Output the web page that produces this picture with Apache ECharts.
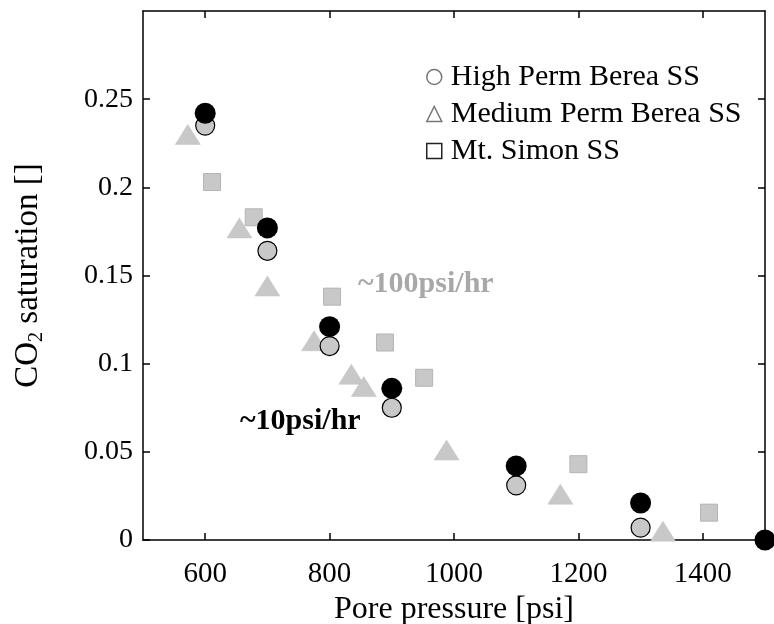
<!DOCTYPE html>
<html>
<head>
<meta charset="utf-8">
<script src="https://cdn.jsdelivr.net/npm/echarts@6/dist/echarts.min.js"></script>
<style>html,body{margin:0;padding:0;background:#fff;}#c{width:774px;height:624px;}</style>
</head>
<body>
<div id="c"></div>
<script>
// ---- data ----
var hiPermSlow = [[600,0.242],[700,0.177],[800,0.121],[900,0.086],[1100,0.042],[1300,0.021],[1500,0.0]];
var hiPermFast = [[600,0.235],[700,0.164],[800,0.110],[900,0.075],[1100,0.031],[1300,0.007]];
var medPerm = [[572,0.230],[655,0.177],[700,0.144],[775,0.113],[835,0.094],[855,0.087],[988,0.051],[1171,0.026],[1336,0.005]];
var mtSimon = [[611,0.203],[678,0.183],[804,0.138],[889,0.112],[952,0.092],[1200,0.043],[1410,0.0155]];
var xTicks = [600,800,1000,1200,1400];
var yTicks = [0,0.05,0.1,0.15,0.2,0.25];
var legendNames = ['High Perm Berea SS','Medium Perm Berea SS','Mt. Simon SS'];

var FONT = 'Liberation Serif';
var chart = echarts.init(document.getElementById('c'));
var gray = '#c8c8c8';
function xAx(pos, showLabel){
  return {
    type:'value', min:500, max:1500, position:pos,
    axisLine:{show:true, onZero:false, lineStyle:{color:'#000', width:1.5}},
    axisTick:{show:true, inside:true, length:7, customValues:xTicks, lineStyle:{color:'#000', width:1.5}},
    axisLabel:{show:showLabel, customValues:xTicks, color:'#000', fontFamily:FONT, fontSize:29, margin:20,
      formatter:function(v){return String(v);}},
    splitLine:{show:false},
    name: showLabel ? 'Pore pressure [psi]' : '',
    nameLocation:'middle', nameGap:43,
    nameTextStyle:{color:'#000', fontFamily:FONT, fontSize:32}
  };
}
function yAx(pos, showLabel){
  return {
    type:'value', min:0, max:0.3, position:pos,
    axisLine:{show:true, onZero:false, lineStyle:{color:'#000', width:1.5}},
    axisTick:{show:true, inside:true, length:7, customValues:yTicks, lineStyle:{color:'#000', width:1.5}},
    axisLabel:{show:showLabel, customValues:yTicks, color:'#000', fontFamily:FONT, fontSize:28, margin:10,
      formatter:function(v){return String(+v.toFixed(2));}},
    splitLine:{show:false},
    name: showLabel ? '{a|CO}{b|2}{a| saturation []}' : '',
    nameLocation:'middle', nameGap:96,
    nameTextStyle:{color:'#000', fontFamily:FONT, fontSize:33,
      rich:{a:{fontFamily:FONT, fontSize:33, color:'#000', lineHeight:38},
            b:{fontFamily:FONT, fontSize:20, color:'#000', lineHeight:22, verticalAlign:'bottom'}}}
  };
}
var option = {
  animation:false,
  backgroundColor:'#fff',
  grid:{left:143, top:11, right:9, bottom:84, containLabel:false, outerBoundsMode:'none'},
  xAxis:[xAx('bottom', true), xAx('top', false)],
  yAxis:[yAx('left', true), yAx('right', false)],
  legend:{
    orient:'vertical', left:421, top:57, itemGap:7, itemWidth:15, itemHeight:15,
    textStyle:{fontFamily:FONT, fontSize:30, color:'#000', padding:[0,0,0,4]},
    data:[
      {name:legendNames[0], icon:'circle', itemStyle:{color:'#fff', borderColor:'#777', borderWidth:1.5}},
      {name:legendNames[1], icon:'triangle', itemStyle:{color:'#fff', borderColor:'#777', borderWidth:1.5}},
      {name:legendNames[2], icon:'rect', itemStyle:{color:'#fff', borderColor:'#222', borderWidth:1.5}}
    ],
    selectedMode:false
  },
  series:[
    {name:legendNames[2], type:'scatter', data:mtSimon, symbol:'rect', symbolSize:17, clip:false,
     itemStyle:{color:gray, borderColor:'#b4b4b4', borderWidth:1, opacity:1}},
    {name:legendNames[1], type:'scatter', data:medPerm, symbol:'triangle', symbolSize:[25,20], clip:false,
     itemStyle:{color:gray, borderColor:'#c0c0c0', borderWidth:0.5, opacity:1}},
    {name:legendNames[0], type:'scatter', data:hiPermFast, symbol:'circle', symbolSize:19, clip:false,
     itemStyle:{color:gray, borderColor:'#000', borderWidth:1.2, opacity:1}},
    {name:'High Perm Berea SS ~10psi/hr', type:'scatter', data:hiPermSlow, symbol:'circle', symbolSize:21, clip:false,
     itemStyle:{color:'#000', opacity:1}}
  ],
  graphic:[
    {type:'text', left:358, top:269, style:{text:'~100psi/hr', fill:'#a8a8a8', font:'bold 30px "Liberation Serif"'}},
    {type:'text', left:240, top:406, style:{text:'~10psi/hr', fill:'#000', font:'bold 30px "Liberation Serif"'}}
  ]
};
chart.setOption(option);
</script>
</body>
</html>
